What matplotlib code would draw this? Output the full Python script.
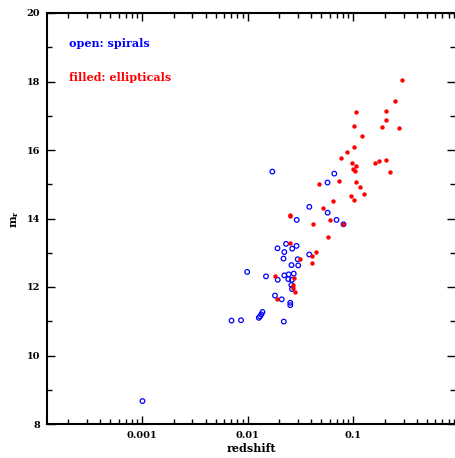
import numpy as np
import matplotlib.pyplot as plt
from matplotlib.ticker import LogLocator, FixedLocator, MultipleLocator, NullFormatter

# spirals (open circles)
z_spiral = [0.00101, 0.00704, 0.00866, 0.01384, 0.01349, 0.01309, 0.01276, 0.0220,
            0.00991, 0.01493, 0.01928, 0.02226, 0.02450, 0.02734, 0.02429, 0.02633,
            0.02594, 0.02633, 0.01817, 0.02104, 0.02535, 0.02535, 0.02312, 0.01919,
            0.02644, 0.02903, 0.02226, 0.02187, 0.02981, 0.02604, 0.03014, 0.03831,
            0.01714, 0.0662, 0.0571, 0.03840, 0.0573, 0.02917, 0.0695, 0.0809]
m_spiral = [8.67, 11.02, 11.03, 11.27, 11.20, 11.14, 11.10, 10.99,
            12.44, 12.31, 12.21, 12.34, 12.37, 12.39, 12.23, 12.21,
            12.06, 11.94, 11.75, 11.64, 11.54, 11.47, 13.26, 13.13,
            13.12, 13.20, 13.02, 12.83, 12.81, 12.64, 12.63, 12.95,
            15.37, 15.31, 15.05, 14.34, 14.17, 13.96, 13.96, 13.83]

# ellipticals (filled)
z_ellip = [0.2885, 0.2472, 0.1063, 0.2023, 0.2045, 0.1018, 0.1887, 0.2733,
           0.1206, 0.1018, 0.0877, 0.0766, 0.0974, 0.1063, 0.1002, 0.1033,
           0.1619, 0.1763, 0.2058, 0.2255, 0.0472, 0.0734, 0.1068, 0.1160,
           0.1257, 0.0953, 0.1011, 0.0644, 0.0514, 0.0253, 0.0250, 0.0603,
           0.0414, 0.0809, 0.0573, 0.02493, 0.0310, 0.0410, 0.0444, 0.0410,
           0.01805, 0.02768, 0.02673, 0.02709, 0.02829, 0.01878]
m_ellip = [18.04, 17.44, 17.12, 17.13, 16.87, 16.71, 16.67, 16.65,
           16.41, 16.08, 15.93, 15.78, 15.61, 15.52, 15.45, 15.40,
           15.61, 15.68, 15.70, 15.37, 15.02, 15.10, 15.07, 14.91,
           14.71, 14.65, 14.53, 14.51, 14.32, 14.10, 14.06, 13.96,
           13.85, 13.83, 13.45, 13.29, 12.82, 12.91, 13.02, 12.69,
           12.32, 12.25, 12.07, 11.98, 11.85, 11.64]

x_ticks = [0.001, 0.01, 0.1]
x_ticklabels = ['0.001', '0.01', '0.1']

plt.rcParams['font.family'] = 'DejaVu Serif'
plt.rcParams['mathtext.fontset'] = 'dejavuserif'

fig = plt.figure(figsize=(4.55, 4.58), dpi=100)
ax = fig.add_axes([47/455, 34/458, 408/455, 411/458])

ax.scatter(z_spiral, m_spiral, s=11, facecolors='none', edgecolors='blue', linewidths=0.9, zorder=3)
ax.scatter(z_ellip, m_ellip, s=10, color='red', linewidths=0, zorder=3)

ax.set_xscale('log')
ax.set_xlim(10**-3.9, 10**-0.036)
ax.set_ylim(8, 20)

ax.xaxis.set_major_locator(FixedLocator(x_ticks))
ax.set_xticklabels(x_ticklabels)
ax.xaxis.set_minor_locator(LogLocator(base=10, subs=np.arange(2, 10)))
ax.xaxis.set_minor_formatter(NullFormatter())
ax.yaxis.set_major_locator(MultipleLocator(2))
ax.yaxis.set_minor_locator(MultipleLocator(1))

ax.tick_params(which='both', direction='in', top=True, right=True, width=1.0, colors='black')
ax.tick_params(which='major', length=6, labelsize=7, pad=5)
ax.tick_params(which='minor', length=3.5)
for lab in ax.get_xticklabels() + ax.get_yticklabels():
    lab.set_fontweight('bold')

for side in ['left', 'top', 'bottom']:
    ax.spines[side].set_linewidth(1.5)
ax.spines['right'].set_visible(False)

ax.set_xlabel('redshift', fontsize=8, fontweight='bold', labelpad=2)
ax.set_ylabel(r'm$_\mathregular{r}$', fontsize=8, fontweight='bold', labelpad=4)

ax.text(0.054, 0.925, 'open: spirals', color='blue', fontsize=8, fontweight='bold',
        transform=ax.transAxes, va='center', ha='left')
ax.text(0.054, 0.842, 'filled: ellipticals', color='red', fontsize=8, fontweight='bold',
        transform=ax.transAxes, va='center', ha='left')

fig.savefig('out.png', dpi=100)
